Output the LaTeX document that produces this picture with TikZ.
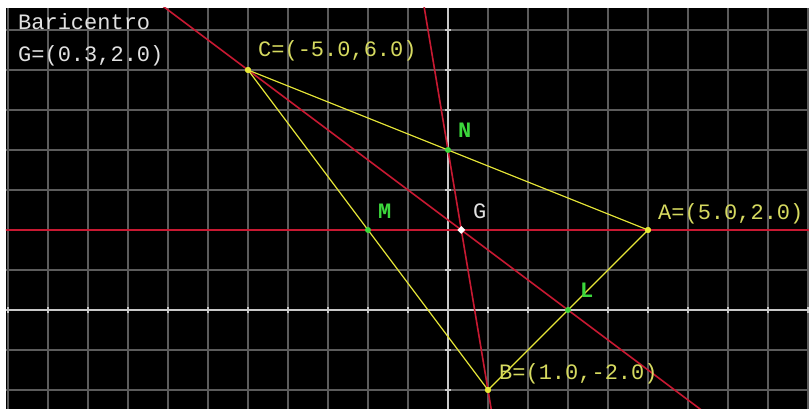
\documentclass[tikz,border=0pt]{standalone}
\usepackage{fontspec}
\setmonofont{Liberation Mono}
\usetikzlibrary{calc,shapes.geometric}
\definecolor{gridc}{RGB}{92,92,92}
\definecolor{axisc}{RGB}{200,200,200}
\definecolor{redc}{RGB}{200,25,50}
\definecolor{yelc}{RGB}{232,232,56}
\definecolor{yeltxt}{RGB}{214,218,96}
\definecolor{grnc}{RGB}{60,215,60}
\definecolor{txtc}{RGB}{225,225,225}
\tikzset{
  lbl/.style={inner sep=0pt, anchor=base west, font=\ttfamily\fontsize{22}{24}\selectfont},
  ylbl/.style={lbl, text=yeltxt},
  glbl/.style={lbl, text=grnc, font=\ttfamily\bfseries\fontsize{22}{24}\selectfont},
  wlbl/.style={lbl, text=txtc},
  dotY/.style={circle, fill=yelc, inner sep=0pt, minimum size=6pt},
  dotG/.style={circle, fill=grnc, inner sep=0pt, minimum size=6pt},
  dotW/.style={diamond, fill=white, inner sep=0pt, minimum size=8pt},
  median/.style={redc, line width=1.6pt},
  side/.style={yelc, line width=1.2pt},
}
\begin{document}
\begin{tikzpicture}[x=40pt,y=40pt]
\useasboundingbox (-11.2,-2.475) rectangle (9.025,7.75);
\fill[white] (-11.2,-2.475) rectangle (9.025,7.75);
\fill[black] (-11.05,-2.475) rectangle (9.025,7.55);
\coordinate (A) at (5,2);
\coordinate (B) at (1,-2);
\coordinate (C) at (-5,6);
\coordinate (L) at (3,0);
\coordinate (M) at (-2,2);
\coordinate (N) at (0,4);
\coordinate (G) at (1/3,2);
\begin{scope}
\clip (-11.05,-2.475) rectangle (9.025,7.55);
\draw[gridc, line width=1.3pt, step=40pt] (-11.05,-2.475) grid (9.025,7.55);
\draw[axisc, line width=1.7pt] (-11.05,0) -- (9.025,0);
\draw[axisc, line width=1.7pt] (0,-2.475) -- (0,7.55);
\foreach \i in {-11,...,9} \draw[axisc, line width=1.3pt] (\i,-0.08) -- (\i,0.08);
\foreach \j in {-2,...,7} \draw[axisc, line width=1.3pt] (-0.08,\j) -- (0.08,\j);
\draw[median] ($(A)!-2!(M)$) -- ($(A)!3!(M)$);
\draw[median] ($(B)!-1!(N)$) -- ($(B)!3!(N)$);
\draw[median] ($(C)!-1!(L)$) -- ($(C)!2!(L)$);
\end{scope}
\node[dotY] (a) at (A) {};
\node[dotY] (b) at (B) {};
\node[dotY] (c) at (C) {};
\draw[side] (a.center) -- (b.center) -- (c.center) -- cycle;
\node[dotY] at (A) {};
\node[dotY] at (B) {};
\node[dotY] at (C) {};
\node[dotG] (l) at (L) {};
\node[dotG] (m) at (M) {};
\node[dotG] (n) at (N) {};
\node[dotW] (g) at (G) {};
\node[wlbl] (t1) at (-10.75,7.0) {Baricentro};
\node[wlbl] (t2) at (-10.75,6.2) {G=(0.3,2.0)};
\node[ylbl] (cl) at (-4.75,6.325) {C=(-5.0,6.0)};
\node[ylbl] (al) at (5.25,2.25) {A=(5.0,2.0)};
\node[ylbl] (bl) at (1.275,-1.75) {B=(1.0,-2.0)};
\node[glbl] (nl) at (0.25,4.3) {N};
\node[glbl] (ml) at (-1.75,2.275) {M};
\node[glbl] (ll) at (3.3,0.3) {L};
\node[wlbl] (gl) at (0.625,2.275) {G};
\end{tikzpicture}
\end{document}
